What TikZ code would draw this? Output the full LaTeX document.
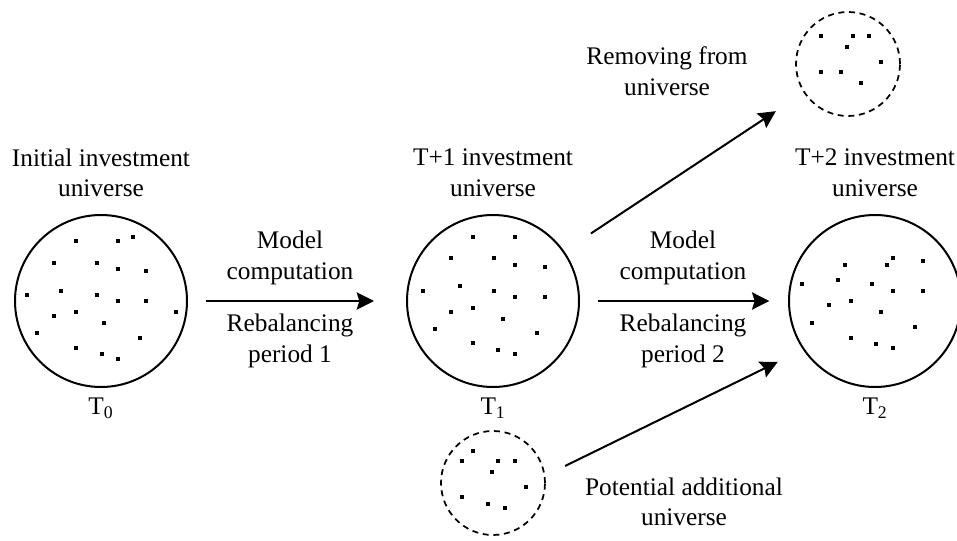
\documentclass[tikz,border=0pt]{standalone}
\usepackage{fontspec}
\setmainfont{Liberation Serif}
\usetikzlibrary{arrows.meta}

\begin{document}
\begin{tikzpicture}[x=0.75pt,y=-0.75pt]
		\tikzset{universe/.style = {shape=circle,draw,line width=1.5pt,minimum size=129pt,inner sep=0pt}}
		\tikzset{subset/.style = {shape=circle,draw,line width=1.3pt,dash pattern=on 4.5pt off 3.5pt,minimum size=78pt,inner sep=0pt}}
		\tikzset{flow/.style = {-{Stealth[length=13pt,width=13pt,inset=2pt]},line width=1.5pt}}
		\tikzset{txt/.style = {align=center,font=\fontsize{19}{23}\selectfont}}
		\useasboundingbox (0,0) rectangle (957,541);
		% universes
		\node[universe] (u0) at (101,301) {};
		\node[universe] (u1) at (493,301) {};
		\node[universe] (u2) at (875,301) {};
		\node[subset] (rm) at (848,64) {};
		\node[subset] (ad) at (493,483) {};
		% titles
		\node[txt] (h0) at (101,173) {Initial investment\\universe};
		\node[txt] (h1) at (493,173) {T+1 investment\\universe};
		\node[txt] (h2) at (875,173) {T+2 investment\\universe};
		\node[txt] (t0) at (101,408) {T\textsubscript{0}};
		\node[txt] (t1) at (493,408) {T\textsubscript{1}};
		\node[txt] (t2) at (875,408) {T\textsubscript{2}};
		% arrows
		\draw[flow, shorten <=13.5pt, shorten >=24pt] (u0.east) -- (u1.west);
		\draw[flow, shorten <=13.5pt, shorten >=14pt] (u1.east) -- (u2.west);
		\draw[flow, shorten <=24pt, shorten >=25pt] (u1.35) -- (rm.213);
		\draw[flow, shorten <=16.5pt, shorten >=21pt] (ad.8) -- (u2.214);
		\node[txt] (m1) at (290,258) {Model\\computation};
		\node[txt] (r1) at (290,341) {Rebalancing\\period 1};
		\node[txt] (m2) at (683,258) {Model\\computation};
		\node[txt] (r2) at (683,341) {Rebalancing\\period 2};
		\node[txt] (rmt) at (667,71) {Removing from\\universe};
		\node[txt] (adt) at (684,502) {Potential additional\\universe};
		% assets
		\foreach \x/\y in {76/241,118/241,133/237,54/263,97/263,118/269,146/271,27/295,61/291,97/295,
			118/301,146/301,176/312,54/316,76/312,104/323,37/333,140/338,76/348,102/354,118/359,
			473/237,515/237,451/258,494/258,515/265,545/267,423/291,460/286,494/291,515/297,
			545/297,451/312,473/308,503/319,435/329,537/333,473/343,498/350,515/354,
			893/258,923/261,845/265,887/265,802/284,838/280,872/284,893/291,923/291,829/305,
			851/301,881/312,812/323,915/327,851/338,876/344,893/348,
			821/36,853/36,869/36,847/47,881/62,821/72,841/72,861/83,
			473/451,462/461,498/461,515/461,492/472,526/487,462/497,488/504,505/508}
			\fill (\x,\y) +(-2,-2) rectangle +(2,2);
	\end{tikzpicture}
\end{document}
